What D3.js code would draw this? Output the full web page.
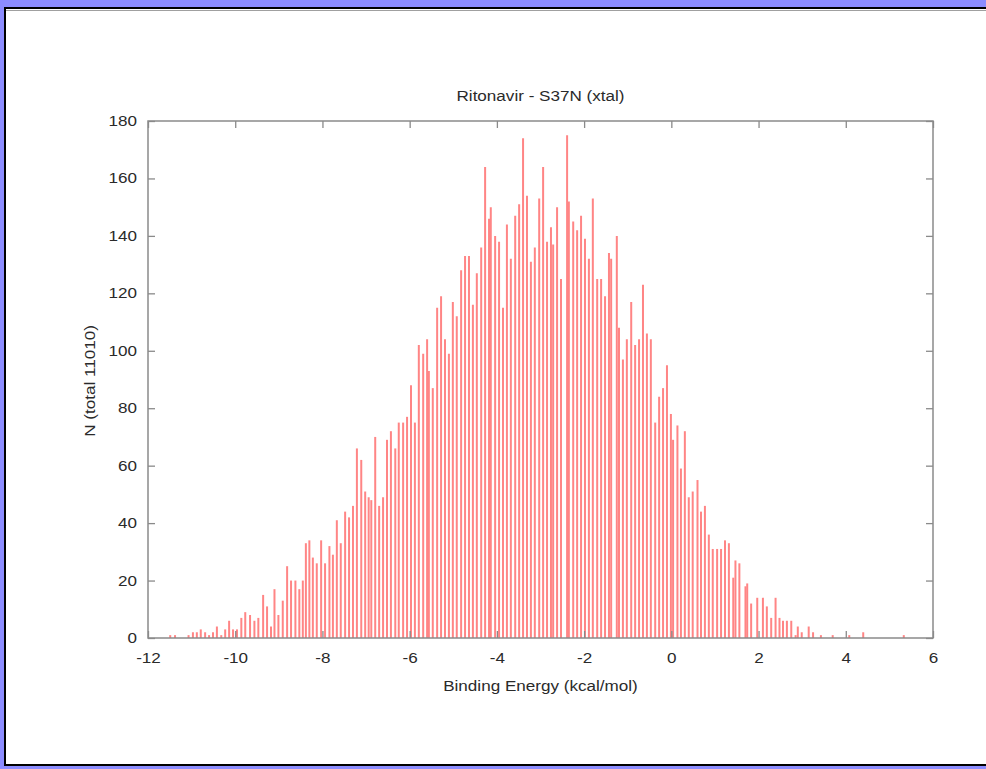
<!DOCTYPE html>
<html>
<head>
<meta charset="utf-8">
<script src="https://cdn.jsdelivr.net/npm/d3@7/dist/d3.min.js"></script>
<style>
  html, body { margin: 0; padding: 0; background: #8c8cff; }
  svg { display: block; }
</style>
</head>
<body>
<div id="chart"></div>
<script>
// histogram bins (bin centre in kcal/mol, count)
const energies = [
  -11.49, -11.38, -11.07, -10.97, -10.88, -10.79, -10.69, -10.60, -10.51, -10.42,
  -10.32, -10.23, -10.14, -10.05, -9.96, -9.86, -9.77, -9.66, -9.56, -9.47,
  -9.36, -9.27, -9.18, -9.10, -9.01, -8.91, -8.81, -8.72, -8.62, -8.53,
  -8.45, -8.38, -8.30, -8.22, -8.13, -8.03, -7.94, -7.84, -7.76, -7.67,
  -7.58, -7.48, -7.39, -7.30, -7.21, -7.11, -7.02, -6.94, -6.88, -6.79,
  -6.70, -6.61, -6.52, -6.43, -6.33, -6.25, -6.15, -6.06, -5.97, -5.88,
  -5.79, -5.69, -5.60, -5.56, -5.47, -5.37, -5.28, -5.19, -5.10, -5.01,
  -4.92, -4.82, -4.73, -4.64, -4.55, -4.46, -4.36, -4.27, -4.18, -4.14,
  -4.04, -3.95, -3.86, -3.77, -3.68, -3.58, -3.49, -3.40, -3.31, -3.22,
  -3.13, -3.03, -2.94, -2.85, -2.76, -2.71, -2.62, -2.53, -2.39, -2.35,
  -2.25, -2.16, -2.07, -1.98, -1.89, -1.80, -1.70, -1.61, -1.52, -1.43,
  -1.38, -1.25, -1.20, -1.11, -1.02, -0.92, -0.83, -0.74, -0.65, -0.56,
  -0.47, -0.37, -0.28, -0.19, -0.10, -0.01, 0.04, 0.14, 0.22, 0.31,
  0.40, 0.49, 0.60, 0.68, 0.77, 0.86, 0.95, 1.05, 1.14, 1.23,
  1.32, 1.42, 1.47, 1.56, 1.70, 1.74, 1.83, 1.97, 2.10, 2.19,
  2.29, 2.39, 2.48, 2.56, 2.65, 2.75, 2.85, 2.90, 2.99, 3.15,
  3.25, 3.43, 3.70, 4.08, 4.40, 5.33
];
const counts = [
  1, 1, 1, 2, 2, 3, 2, 1, 2, 4,
  1, 3, 6, 3, 3, 7, 9, 8, 6, 7,
  15, 11, 4, 17, 8, 13, 25, 20, 20, 17,
  20, 33, 34, 28, 26, 34, 26, 32, 29, 41,
  33, 44, 42, 46, 66, 62, 51, 49, 48, 70,
  46, 49, 69, 72, 66, 75, 75, 77, 88, 75,
  102, 99, 104, 93, 87, 115, 119, 104, 99, 117,
  112, 128, 133, 133, 116, 127, 136, 164, 146, 150,
  140, 138, 115, 144, 132, 147, 151, 174, 154, 131,
  136, 153, 164, 138, 143, 137, 150, 125, 175, 152,
  145, 142, 147, 139, 132, 153, 125, 125, 119, 134,
  132, 140, 108, 97, 104, 117, 102, 104, 123, 106,
  104, 75, 84, 87, 95, 78, 69, 74, 59, 72,
  49, 51, 55, 44, 46, 36, 31, 31, 31, 34,
  33, 21, 27, 26, 18, 19, 12, 14, 14, 11,
  7, 14, 7, 6, 6, 6, 1, 4, 2, 4,
  2, 1, 1, 1, 2, 1
];
const xTickValues = [-12, -10, -8, -6, -4, -2, 0, 2, 4, 6];
const yTickValues = [0, 20, 40, 60, 80, 100, 120, 140, 160, 180];
const titleText = 'Ritonavir - S37N (xtal)';
const xLabelText = 'Binding Energy (kcal/mol)';
const yLabelText = 'N (total 11010)';

const W = 986, H = 769;
const plot = {left: 148, right: 933, top: 121, bottom: 638};
const fontSize = 14;
const stretch = 1.22;   // text in the picture is wider than it is tall
const axisColor = '#8a8a8a';
const textColor = '#2a2a2a';

const svg = d3.select('#chart')
  .append('svg')
  .attr('width', W)
  .attr('height', H)
  .style('font-family', '"Liberation Sans", Arial, Helvetica, sans-serif')
  .style('font-size', fontSize + 'px');

// page frame
svg.append('rect')
  .attr('width', W).attr('height', H)
  .attr('fill', '#8c8cff');
svg.append('rect')
  .attr('x', 5).attr('y', 8)
  .attr('width', 1000).attr('height', 757)
  .attr('fill', '#fff')
  .attr('stroke', '#000')
  .attr('stroke-width', 2);
svg.append('line')
  .attr('x1', 6).attr('x2', W)
  .attr('y1', 10.5).attr('y2', 10.5)
  .attr('stroke', '#a0a0a0');

const x = d3.scaleLinear()
  .domain([-12, 6])
  .range([plot.left, plot.right]);

const y = d3.scaleLinear()
  .domain([0, 180])
  .range([plot.bottom, plot.top]);

// plain hyphen for negatives, like gnuplot
const plainNum = d => String(d);

// widen a text element to match the stretched lettering of the picture
function widen(sel) {
  sel.each(function() {
    const len = this.getComputedTextLength();
    d3.select(this)
      .attr('textLength', len * stretch)
      .attr('lengthAdjust', 'spacingAndGlyphs');
  });
}

// impulses
svg.append('g')
  .selectAll('line')
  .data(energies.map((e, i) => [e, counts[i]]))
  .enter()
  .append('line')
  .attr('x1', d => x(d[0]))
  .attr('x2', d => x(d[0]))
  .attr('y1', y(0))
  .attr('y2', d => y(d[1]))
  .attr('stroke', '#ff8585')
  .attr('stroke-width', 2);

// axes, ticks pointing inwards, mirrored on top and right
const tickLen = 7;

function styleAxis(g) {
  g.select('.domain').remove();
  g.selectAll('.tick line').attr('stroke', axisColor).attr('stroke-width', 1.3);
  g.selectAll('.tick text').attr('fill', textColor).style('font-size', fontSize + 'px');
}

svg.append('g')
  .attr('transform', 'translate(0,' + plot.bottom + ')')
  .call(d3.axisBottom(x).tickValues(xTickValues).tickFormat(plainNum)
    .tickSizeInner(-tickLen).tickSizeOuter(0).tickPadding(15))
  .call(styleAxis)
  .call(g => g.selectAll('.tick text').call(widen));

svg.append('g')
  .attr('transform', 'translate(0,' + plot.top + ')')
  .call(d3.axisTop(x).tickValues(xTickValues).tickSizeInner(-tickLen).tickSizeOuter(0).tickFormat(''))
  .call(styleAxis);

svg.append('g')
  .attr('transform', 'translate(' + plot.left + ',0)')
  .call(d3.axisLeft(y).tickValues(yTickValues).tickFormat(plainNum)
    .tickSizeInner(-tickLen).tickSizeOuter(0).tickPadding(11))
  .call(styleAxis)
  .call(g => g.selectAll('.tick text').call(widen));

svg.append('g')
  .attr('transform', 'translate(' + plot.right + ',0)')
  .call(d3.axisRight(y).tickValues(yTickValues).tickSizeInner(-tickLen).tickSizeOuter(0).tickFormat(''))
  .call(styleAxis);

// border
svg.append('rect')
  .attr('x', plot.left).attr('y', plot.top)
  .attr('width', plot.right - plot.left)
  .attr('height', plot.bottom - plot.top)
  .attr('fill', 'none')
  .attr('stroke', axisColor)
  .attr('stroke-width', 1.5);

// titles
svg.append('text')
  .attr('x', (plot.left + plot.right) / 2)
  .attr('y', 101)
  .attr('text-anchor', 'middle')
  .attr('fill', textColor)
  .text(titleText)
  .call(widen);

svg.append('text')
  .attr('x', (plot.left + plot.right) / 2)
  .attr('y', 691)
  .attr('text-anchor', 'middle')
  .attr('fill', textColor)
  .text(xLabelText)
  .call(widen);

svg.append('text')
  .attr('transform', 'translate(95,' + 381 + ') rotate(-90)')
  .attr('text-anchor', 'middle')
  .attr('fill', textColor)
  .text(yLabelText)
  .call(widen);
</script>
</body>
</html>
